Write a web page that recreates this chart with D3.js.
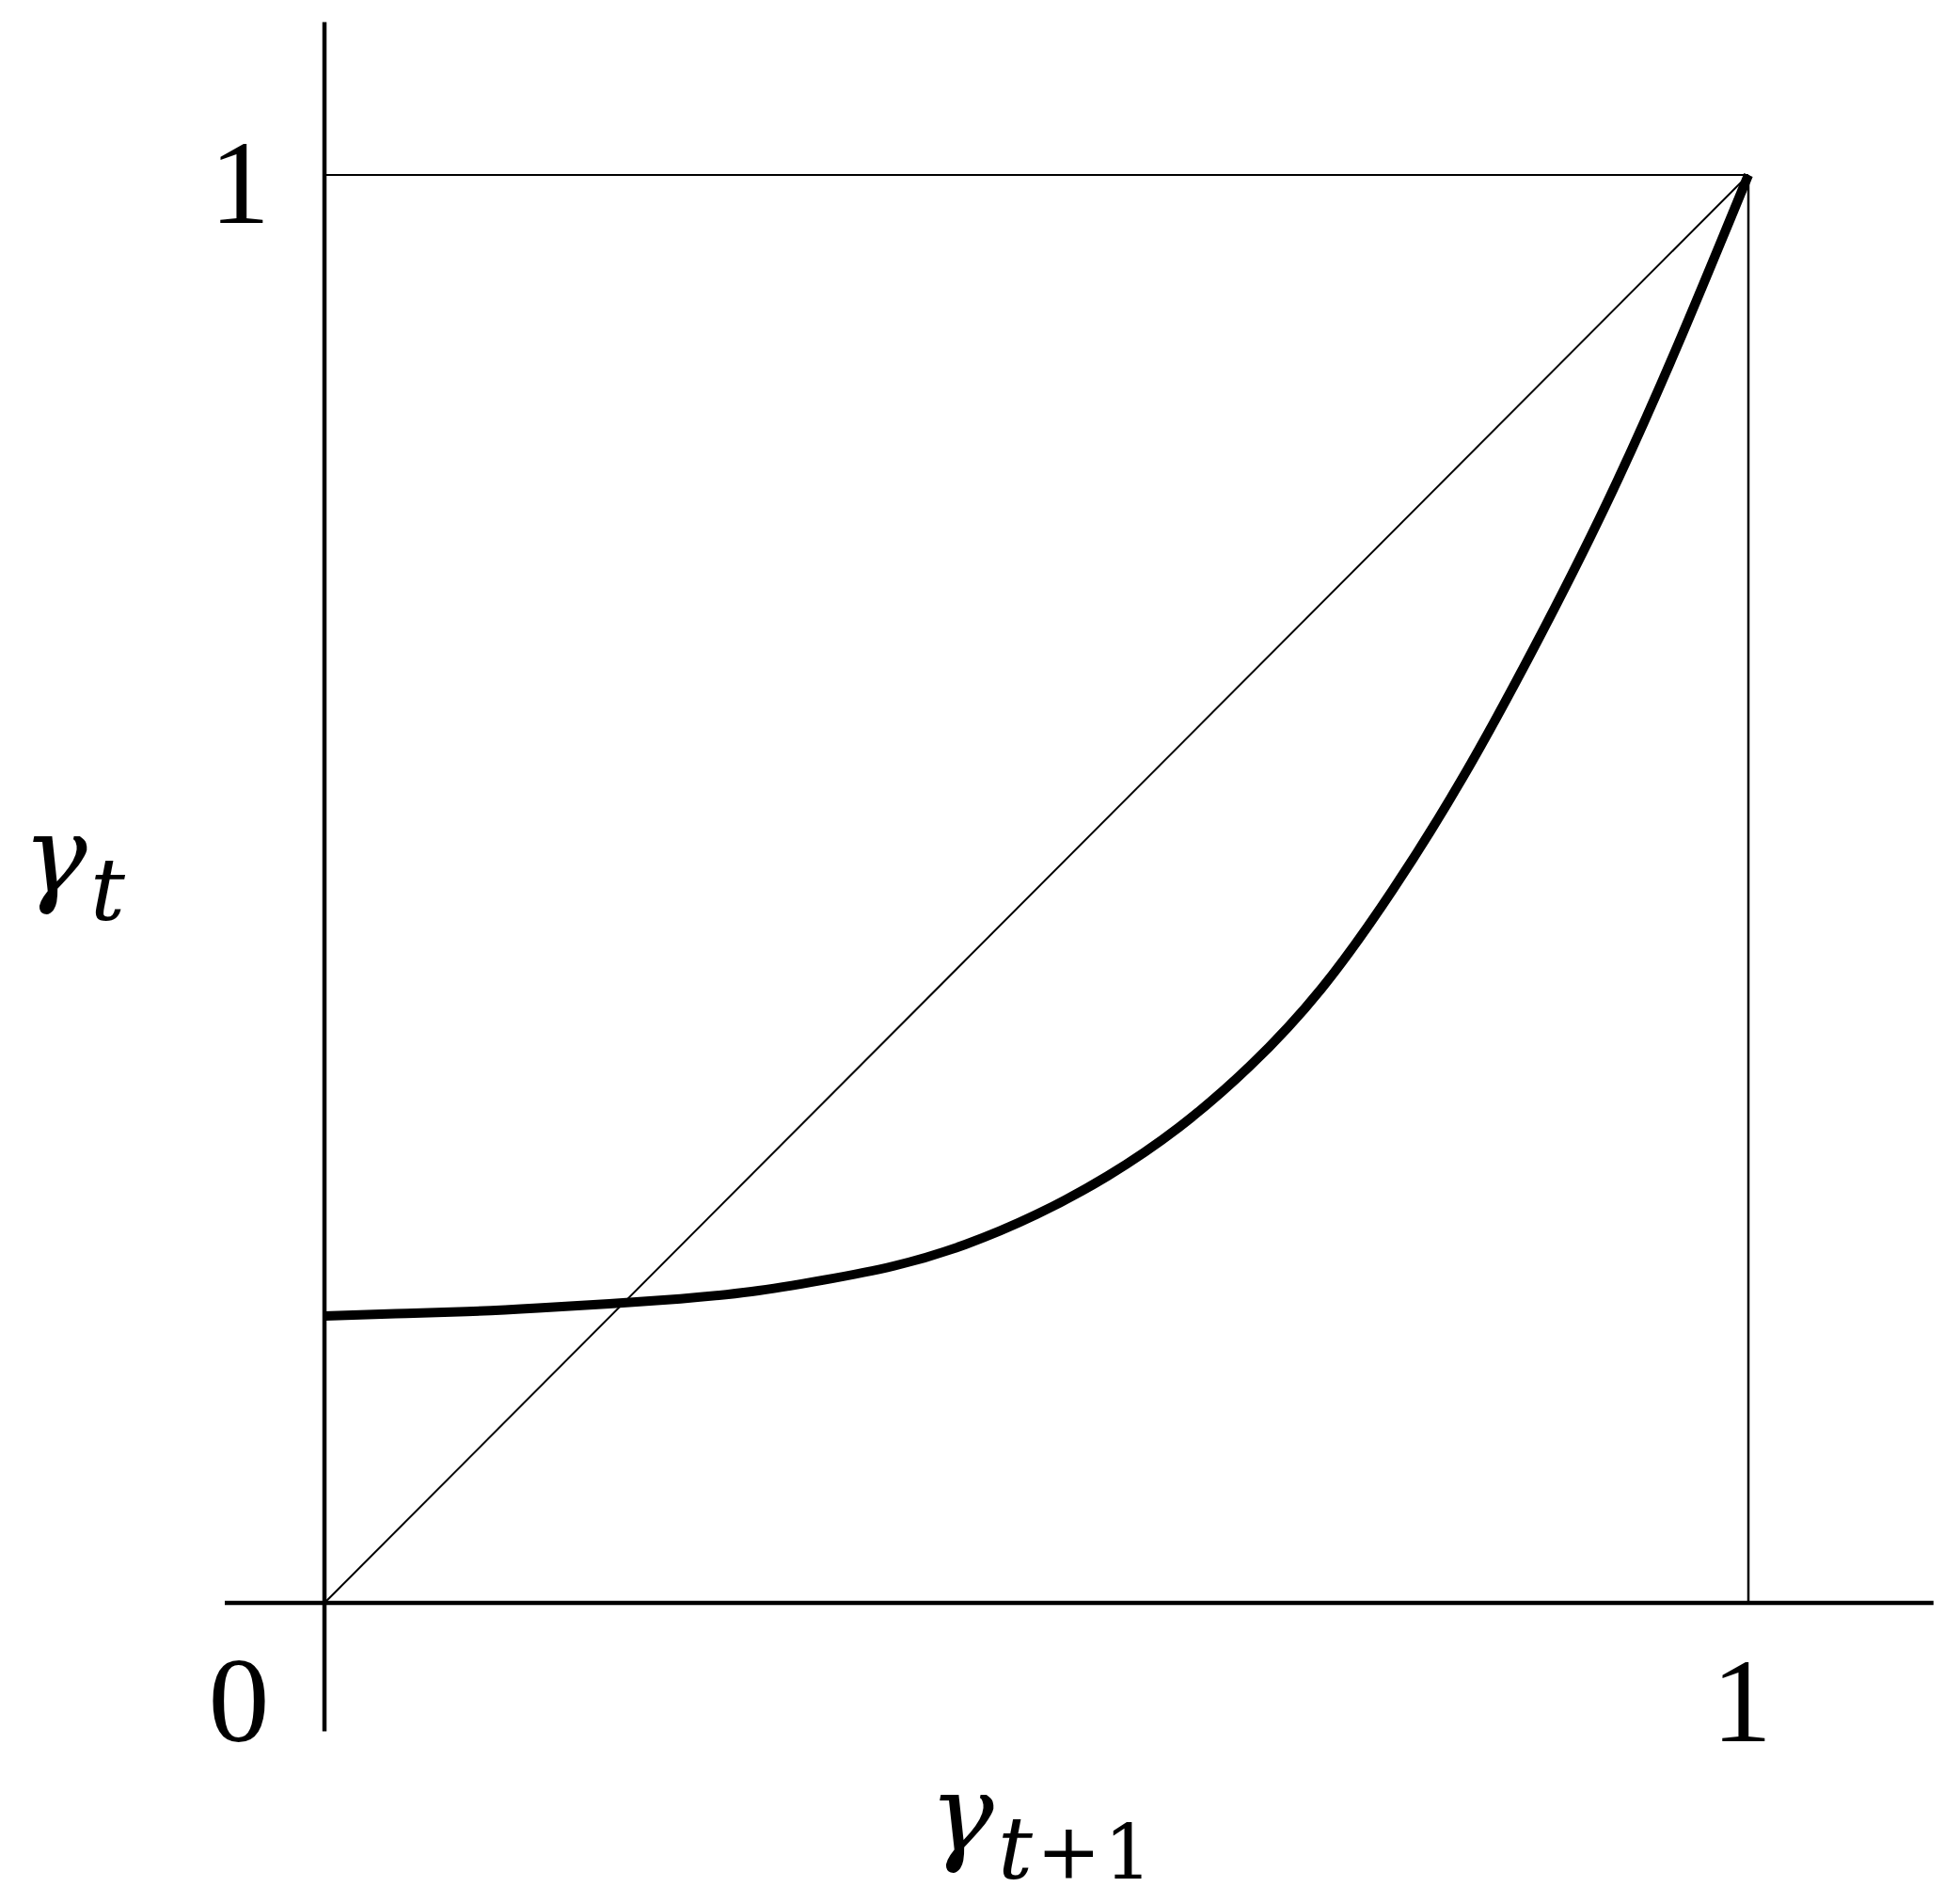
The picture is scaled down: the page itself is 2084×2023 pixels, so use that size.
<!DOCTYPE html>
<html>
<head>
<meta charset="utf-8">
<script src="https://cdn.jsdelivr.net/npm/d3@7"></script>
<style>
  html, body { margin: 0; padding: 0; background: #fff; }
  svg { display: block; }
  text { fill: #000; }
</style>
</head>
<body>
<svg id="chart" width="2084" height="2023"></svg>
<script>
// ---- data ----
const gammaNext = [0, 0.05, 0.10, 0.15, 0.20, 0.25, 0.30, 0.35, 0.40, 0.45, 0.50, 0.55, 0.60, 0.65, 0.70, 0.75, 0.80, 0.85, 0.90, 0.95, 1.00];
const gammaT    = [0.201, 0.2025, 0.204, 0.2065, 0.2095, 0.213, 0.218, 0.226, 0.236, 0.251, 0.272, 0.299, 0.333, 0.376, 0.430, 0.499, 0.579, 0.670, 0.769, 0.880, 1.000];
const diagonal  = [0, 1];
const xTickLabels = ["0", "1"];
const yTickLabels = ["1"];

// ---- layout ----
const svg = d3.select("#chart");
const x = d3.scaleLinear().domain([0, 1]).range([345, 1859]);
const y = d3.scaleLinear().domain([0, 1]).range([1704, 186]);
const xAxisExtent = [-0.07, 1.13];
const yAxisExtent = [-0.09, 1.107];
const serif = "'Liberation Serif', 'Times New Roman', serif";
const mathFont = "'DejaVu Serif', serif";

// reference lines at 1
svg.append("line")
  .attr("x1", x(0)).attr("x2", x(1)).attr("y1", y(1)).attr("y2", y(1))
  .attr("stroke", "#000").attr("stroke-width", 2);
svg.append("line")
  .attr("x1", x(1)).attr("x2", x(1)).attr("y1", y(1)).attr("y2", y(0))
  .attr("stroke", "#000").attr("stroke-width", 2.5);

// 45-degree line
svg.append("path")
  .datum(diagonal)
  .attr("fill", "none").attr("stroke", "#000").attr("stroke-width", 2)
  .attr("d", d3.line().x(d => x(d)).y(d => y(d)));

// axes
svg.append("line")
  .attr("x1", x(xAxisExtent[0])).attr("x2", x(xAxisExtent[1]))
  .attr("y1", y(0)).attr("y2", y(0))
  .attr("stroke", "#000").attr("stroke-width", 4.5);
svg.append("line")
  .attr("x1", x(0)).attr("x2", x(0))
  .attr("y1", y(yAxisExtent[0])).attr("y2", y(yAxisExtent[1]))
  .attr("stroke", "#000").attr("stroke-width", 4.5);

// main curve
const pts = gammaNext.map((g, i) => [g, gammaT[i]]);
svg.append("path")
  .datum(pts)
  .attr("fill", "none").attr("stroke", "#000").attr("stroke-width", 10)
  .attr("stroke-linecap", "butt")
  .attr("d", d3.line().x(d => x(d[0])).y(d => y(d[1])).curve(d3.curveNatural));

// tick labels
svg.append("text").text(yTickLabels[0])
  .attr("x", x(0) - 90).attr("y", y(1) + 51)
  .attr("text-anchor", "middle")
  .attr("font-family", serif).attr("font-size", 128);
svg.append("text").text(xTickLabels[0])
  .attr("x", x(0) - 91).attr("y", y(0) + 147)
  .attr("text-anchor", "middle")
  .attr("font-family", serif).attr("font-size", 130);
svg.append("text").text(xTickLabels[1])
  .attr("x", x(1) - 7).attr("y", y(0) + 147)
  .attr("text-anchor", "middle")
  .attr("font-family", serif).attr("font-size", 128);

// y-axis title: γ_t
const yt = svg.append("text")
  .attr("font-family", mathFont).attr("font-style", "italic");
yt.append("tspan").text("γ").attr("x", 24).attr("y", 948).attr("font-size", 115);
yt.append("tspan").text("t").attr("x", 96).attr("y", 978).attr("font-size", 92);

// x-axis title: γ_{t+1}
const xt = svg.append("text").attr("font-family", mathFont);
xt.append("tspan").text("γ").attr("x", 988).attr("y", 1967)
  .attr("font-size", 115).attr("font-style", "italic");
xt.append("tspan").text("t").attr("x", 1061).attr("y", 1997)
  .attr("font-size", 92).attr("font-style", "italic");
xt.append("tspan").text("+").attr("x", 1102).attr("y", 1997)
  .attr("font-size", 82);
xt.append("tspan").text("1").attr("x", 1174).attr("y", 1997)
  .attr("font-size", 80);
</script>
</body>
</html>
